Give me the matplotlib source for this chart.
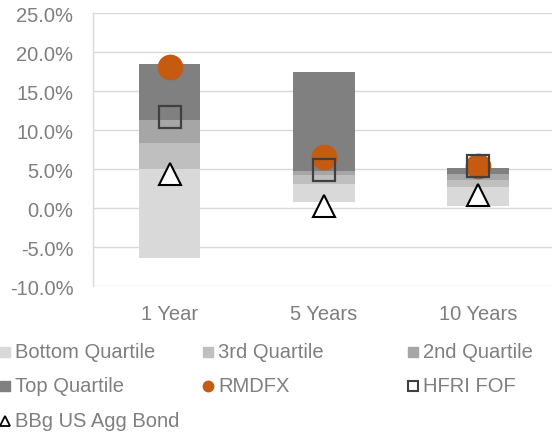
import matplotlib.pyplot as plt
import numpy as np
from matplotlib.lines import Line2D

plt.rcParams["font.family"] = ["Liberation Sans", "DejaVu Sans"]

# quartile breakpoints (%), per period
periods = ["1 Year", "5 Years", "10 Years"]
range_low = [-6.4, 0.8, 0.3]
bottom_q_top = [5.0, 3.15, 2.75]
third_q_top = [8.35, 4.2, 3.6]
second_q_top = [11.35, 4.8, 4.35]
top_q_top = [18.5, 17.5, 5.15]

# point series (%)
rmdfx = [18.1, 6.55, 5.45]
hfri_fof = [11.7, 4.95, 5.35]
bbg_agg = [4.4, 0.3, 1.7]

y_ticks = [-10, -5, 0, 5, 10, 15, 20, 25]

TEXT = "#7F7F7F"
GRID = "#D9D9D9"
Q_COLORS = ["#D9D9D9", "#BFBFBF", "#A6A6A6", "#808080"]
ORANGE = "#C55A11"

fig = plt.figure(figsize=(5.52, 4.39), dpi=100)
ax = fig.add_axes([92.7 / 552, 1 - 287.3 / 439, 462 / 552, (287.3 - 14) / 439])

x = np.arange(len(periods))
bounds = [range_low, bottom_q_top, third_q_top, second_q_top, top_q_top]
for i, color in enumerate(Q_COLORS):
    lo = np.array(bounds[i])
    hi = np.array(bounds[i + 1])
    ax.bar(x, hi - lo, bottom=lo, width=0.4, color=color, zorder=2)

ax.plot(x, rmdfx, "o", ms=17.5, color=ORANGE, mec=ORANGE, zorder=3)
ax.plot(x, hfri_fof, "s", ms=16, mfc="none", mec="#404040", mew=1.6, zorder=4)
ax.plot(x, bbg_agg, "^", ms=16, mfc="white", mec="black", mew=1.5, zorder=4)

ax.set_xlim(-0.5, 2.5)
ax.set_ylim(-10, 25)
ax.set_yticks(y_ticks)
ax.set_yticklabels([f"{v:.1f}%" for v in y_ticks])
ax.set_xticks(x)
ax.set_xticklabels(periods)
ax.tick_params(axis="y", length=0, pad=14, labelsize=14.5, labelcolor=TEXT)
ax.tick_params(axis="x", length=0, pad=13, labelsize=14.5, labelcolor=TEXT)
ax.grid(axis="y", color=GRID, linewidth=1.0, zorder=0)
ax.set_axisbelow(True)
for side in ("top", "right", "bottom"):
    ax.spines[side].set_visible(False)
ax.spines["left"].set_color(GRID)
ax.spines["left"].set_linewidth(1.0)

# legend, laid out like the spreadsheet one (row-major, 3 columns)
legend_items = [
    ("Bottom Quartile", dict(marker="s", ms=7, color=Q_COLORS[0])),
    ("3rd Quartile", dict(marker="s", ms=7, color=Q_COLORS[1])),
    ("2nd Quartile", dict(marker="s", ms=7, color=Q_COLORS[2])),
    ("Top Quartile", dict(marker="s", ms=7, color=Q_COLORS[3])),
    ("RMDFX", dict(marker="o", ms=7.5, color=ORANGE)),
    ("HFRI FOF", dict(marker="s", ms=7, mfc="none", mec="#404040", mew=1.5)),
    ("BBg US Agg Bond", dict(marker="^", ms=7, mfc="white", mec="black", mew=1.3)),
]
col_x = [4.5, 208, 412.5]
row_y = [353, 387, 421.5]
for k, (label, style) in enumerate(legend_items):
    r, c = divmod(k, 3)
    px, py = col_x[c], row_y[r]
    fig.add_artist(Line2D([px / 552], [1 - py / 439], linestyle="none",
                          transform=fig.transFigure, **style))
    fig.text((px + 10.5) / 552, 1 - py / 439, label, fontsize=14.5, color=TEXT,
             ha="left", va="center")

fig.savefig("out.png", dpi=100)
